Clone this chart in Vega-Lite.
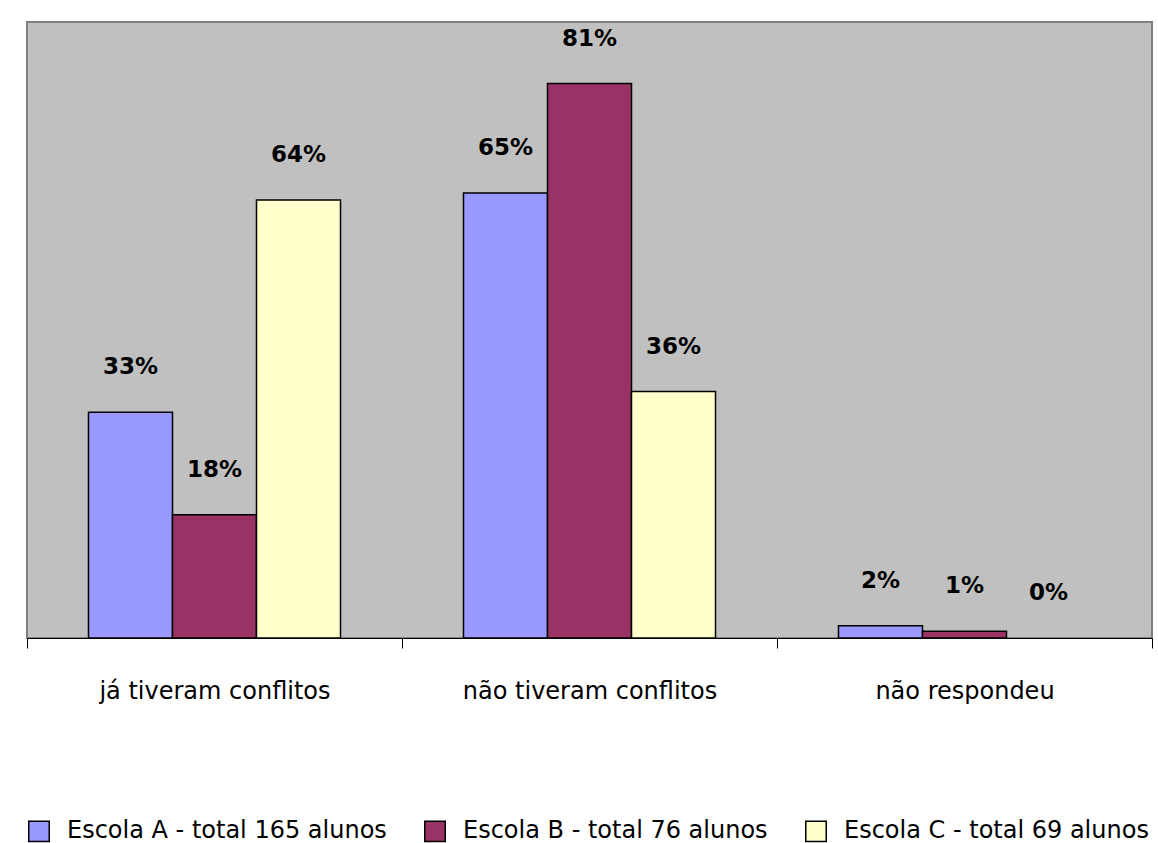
{
  "$schema": "https://vega.github.io/schema/vega-lite/v6.json",
  "width": 1125,
  "height": 616,
  "autosize": {"type": "none"},
  "padding": {"left": 27, "top": 22, "right": 6, "bottom": 205},
  "background": "white",
  "data": {
    "values": [
      {"Resposta": "já tiveram conflitos", "Escola": "Escola A - total 165 alunos", "valor": 0.33},
      {"Resposta": "já tiveram conflitos", "Escola": "Escola B - total 76 alunos", "valor": 0.18},
      {"Resposta": "já tiveram conflitos", "Escola": "Escola C - total 69 alunos", "valor": 0.64},
      {"Resposta": "não tiveram conflitos", "Escola": "Escola A - total 165 alunos", "valor": 0.65},
      {"Resposta": "não tiveram conflitos", "Escola": "Escola B - total 76 alunos", "valor": 0.81},
      {"Resposta": "não tiveram conflitos", "Escola": "Escola C - total 69 alunos", "valor": 0.36},
      {"Resposta": "não respondeu", "Escola": "Escola A - total 165 alunos", "valor": 0.018},
      {"Resposta": "não respondeu", "Escola": "Escola B - total 76 alunos", "valor": 0.01},
      {"Resposta": "não respondeu", "Escola": "Escola C - total 69 alunos", "valor": 0.0}
    ]
  },
  "encoding": {
    "x": {
      "field": "Resposta",
      "type": "nominal",
      "sort": ["já tiveram conflitos", "não tiveram conflitos", "não respondeu"],
      "scale": {"paddingInner": 0, "paddingOuter": 0},
      "axis": {
        "title": null,
        "labelAngle": 0,
        "tickBand": "extent",
        "domainColor": "black",
        "domainWidth": 1,
        "tickColor": "black",
        "tickSize": 10,
        "labelFontSize": 24,
        "labelFont": "DejaVu Sans",
        "labelColor": "black",
        "labelPadding": 31,
        "labelLimit": 0,
        "grid": false
      }
    },
    "xOffset": {
      "field": "Escola",
      "type": "nominal",
      "sort": ["Escola A - total 165 alunos", "Escola B - total 76 alunos", "Escola C - total 69 alunos"],
      "scale": {"paddingInner": 0, "paddingOuter": 0.732}
    },
    "y": {
      "field": "valor",
      "type": "quantitative",
      "scale": {"domain": [0, 0.9], "nice": false, "zero": true},
      "axis": null
    }
  },
  "layer": [
    {
      "mark": {"type": "bar", "stroke": "black", "strokeWidth": 1.5},
      "encoding": {
        "strokeOpacity": {"condition": {"test": "datum.valor == 0", "value": 0}, "value": 1},
        "color": {
          "field": "Escola",
          "type": "nominal",
          "sort": ["Escola A - total 165 alunos", "Escola B - total 76 alunos", "Escola C - total 69 alunos"],
          "scale": {
            "domain": ["Escola A - total 165 alunos", "Escola B - total 76 alunos", "Escola C - total 69 alunos"],
            "range": ["#9999FF", "#993366", "#FFFFCC"]
          },
          "legend": {
            "title": null,
            "orient": "none",
            "legendX": 0,
            "legendY": 797,
            "direction": "horizontal",
            "padding": 0,
            "symbolType": "square",
            "symbolSize": 420,
            "symbolStrokeColor": "black",
            "symbolStrokeWidth": 1.5,
            "symbolOpacity": 1,
            "labelFontSize": 24,
            "labelFont": "DejaVu Sans",
            "labelColor": "black",
            "labelOffset": 16,
            "labelLimit": 0,
            "columnPadding": 34
          }
        }
      }
    },
    {
      "mark": {"type": "text", "dy": -45, "fontSize": 23, "fontWeight": "bold", "font": "DejaVu Sans", "color": "black", "baseline": "middle"},
      "encoding": {
        "text": {"field": "valor", "type": "quantitative", "format": ".0%"}
      }
    }
  ],
  "config": {
    "view": {"fill": "#C0C0C0", "stroke": "#808080", "strokeWidth": 2}
  }
}
